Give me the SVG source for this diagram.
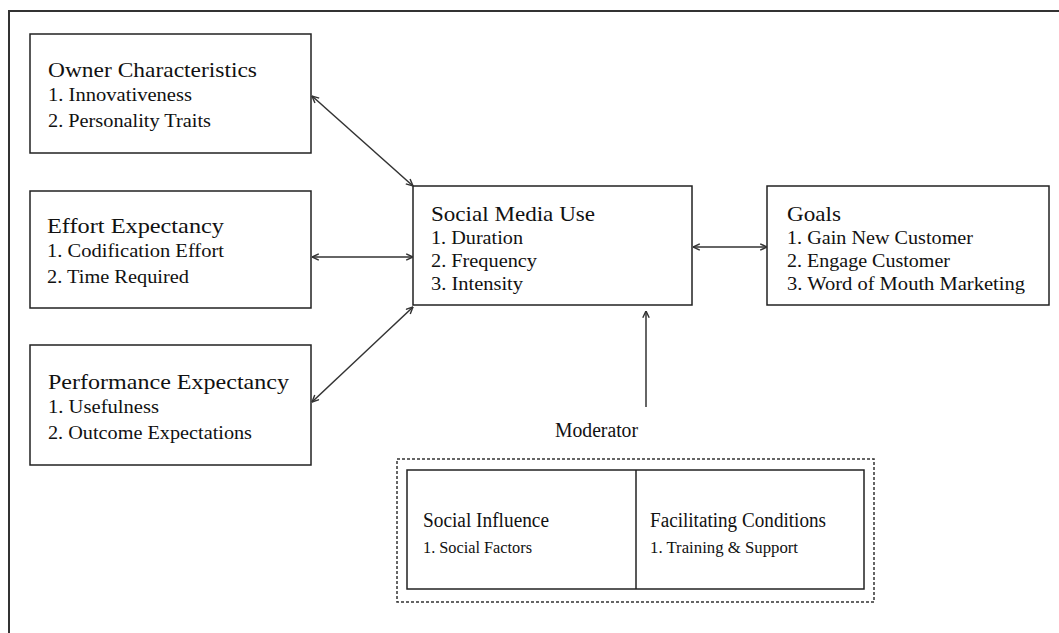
<svg xmlns="http://www.w3.org/2000/svg" width="1059" height="633" viewBox="0 0 1059 633">
<defs>
<style>
.box{fill:#fff;stroke:#222;stroke-width:1.5}
.frame{fill:none;stroke:#333;stroke-width:2}
.dash{fill:none;stroke:#333;stroke-width:1.5;stroke-dasharray:3 2}
.t{font-family:"Liberation Serif","Times New Roman",serif;font-size:22px;fill:#111}
.i{font-family:"Liberation Serif","Times New Roman",serif;font-size:18px;fill:#111}
.s{font-size:20px}
.si{font-size:16px}
.c{fill:none;stroke:#333;stroke-width:1.5}
</style>
<marker id="ah" viewBox="0 0 10 10" refX="9.5" refY="5" markerWidth="8" markerHeight="8" markerUnits="userSpaceOnUse" orient="auto-start-reverse">
<path d="M1,1 L9.5,5 L1,9" fill="none" stroke="#333" stroke-width="1.8"/>
</marker>
</defs>
<rect x="0" y="0" width="1059" height="633" fill="#fff"/>
<rect class="frame" x="9" y="11" width="1080" height="660"/>

<g id="owner">
<rect class="box" x="30" y="34" width="281" height="119"/>
<text class="t" x="48" y="77" textLength="209" lengthAdjust="spacingAndGlyphs">Owner Characteristics</text>
<text class="i" x="48" y="101" textLength="144" lengthAdjust="spacingAndGlyphs">1. Innovativeness</text>
<text class="i" x="48" y="127" textLength="163" lengthAdjust="spacingAndGlyphs">2. Personality Traits</text>
</g>

<g id="effort">
<rect class="box" x="30" y="191" width="281" height="117"/>
<text class="t" x="47" y="233" textLength="177" lengthAdjust="spacingAndGlyphs">Effort Expectancy</text>
<text class="i" x="47" y="257" textLength="177" lengthAdjust="spacingAndGlyphs">1. Codification Effort</text>
<text class="i" x="47" y="283" textLength="142" lengthAdjust="spacingAndGlyphs">2. Time Required</text>
</g>

<g id="performance">
<rect class="box" x="30" y="345" width="281" height="120"/>
<text class="t" x="48" y="389" textLength="241" lengthAdjust="spacingAndGlyphs">Performance Expectancy</text>
<text class="i" x="48" y="413" textLength="111" lengthAdjust="spacingAndGlyphs">1. Usefulness</text>
<text class="i" x="48" y="439" textLength="204" lengthAdjust="spacingAndGlyphs">2. Outcome Expectations</text>
</g>

<g id="smu">
<rect class="box" x="413" y="186" width="279" height="119"/>
<text class="t" x="431" y="221" textLength="164" lengthAdjust="spacingAndGlyphs">Social Media Use</text>
<text class="i" x="431" y="244" textLength="92" lengthAdjust="spacingAndGlyphs">1. Duration</text>
<text class="i" x="431" y="267" textLength="106" lengthAdjust="spacingAndGlyphs">2. Frequency</text>
<text class="i" x="431" y="290" textLength="92" lengthAdjust="spacingAndGlyphs">3. Intensity</text>
</g>

<g id="goals">
<rect class="box" x="767" y="186" width="282" height="119"/>
<text class="t" x="787" y="221" textLength="54" lengthAdjust="spacingAndGlyphs">Goals</text>
<text class="i" x="787" y="244" textLength="186" lengthAdjust="spacingAndGlyphs">1. Gain New Customer</text>
<text class="i" x="787" y="267" textLength="163" lengthAdjust="spacingAndGlyphs">2. Engage Customer</text>
<text class="i" x="787" y="290" textLength="238" lengthAdjust="spacingAndGlyphs">3. Word of Mouth Marketing</text>
</g>

<g id="moderator">
<text class="t s" x="555" y="437" textLength="83" lengthAdjust="spacingAndGlyphs">Moderator</text>
<rect class="dash" x="397" y="459" width="477" height="143"/>
<rect class="box" x="407" y="470" width="457" height="119"/>
<line x1="636" y1="470" x2="636" y2="589" stroke="#222" stroke-width="1.5"/>
</g>

<g id="social-influence">
<text class="t s" x="423" y="527" textLength="126" lengthAdjust="spacingAndGlyphs">Social Influence</text>
<text class="i si" x="423" y="553" textLength="109" lengthAdjust="spacingAndGlyphs">1. Social Factors</text>
</g>

<g id="facilitating">
<text class="t s" x="650" y="527" textLength="176" lengthAdjust="spacingAndGlyphs">Facilitating Conditions</text>
<text class="i si" x="650" y="553" textLength="148" lengthAdjust="spacingAndGlyphs">1. Training &amp; Support</text>
</g>

<g id="connectors">
<line class="c" x1="312" y1="96" x2="413" y2="186" marker-start="url(#ah)" marker-end="url(#ah)"/>
<line class="c" x1="312" y1="257" x2="413" y2="257" marker-start="url(#ah)" marker-end="url(#ah)"/>
<line class="c" x1="413" y1="307" x2="312" y2="402" marker-start="url(#ah)" marker-end="url(#ah)"/>
<line class="c" x1="693" y1="247" x2="767" y2="247" marker-start="url(#ah)" marker-end="url(#ah)"/>
<line class="c" x1="646" y1="407" x2="646" y2="311" marker-end="url(#ah)"/>
</g>
</svg>
